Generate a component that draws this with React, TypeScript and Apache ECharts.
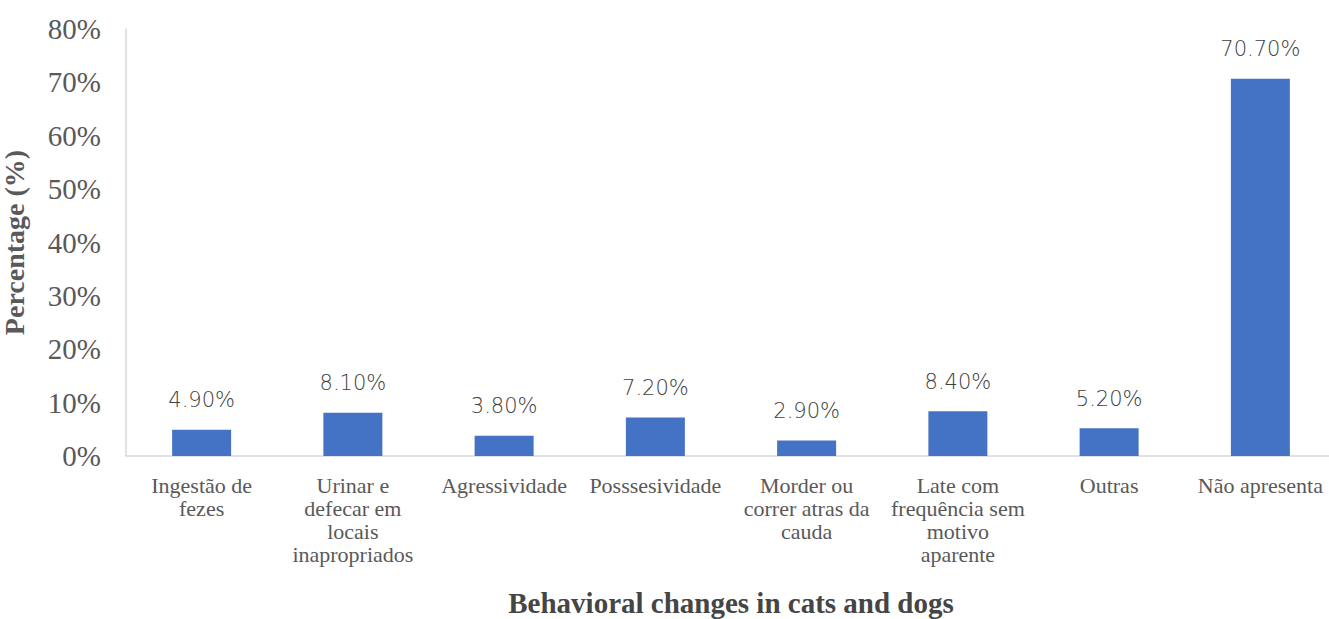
import React, { useEffect, useRef } from "react";
import * as echarts from "echarts";

const categories = [
  "Ingestão de\nfezes",
  "Urinar e\ndefecar em\nlocais\ninapropriados",
  "Agressividade",
  "Posssesividade",
  "Morder ou\ncorrer atras da\ncauda",
  "Late com\nfrequência sem\nmotivo\naparente",
  "Outras",
  "Não apresenta",
];
const values = [4.9, 8.1, 3.8, 7.2, 2.9, 8.4, 5.2, 70.7];
const yTicks = { min: 0, max: 80, interval: 10 };
const xTitle = "Behavioral changes in cats and dogs";
const yTitle = "Percentage (%)";

export default function App() {
  const ref = useRef<HTMLDivElement>(null);
  useEffect(() => {
    if (!ref.current) return;
    const chart = echarts.init(ref.current, null, { renderer: "svg" });
    chart.setOption({
      animation: false,
      backgroundColor: "#ffffff",
      grid: {
        left: 126,
        right: -7,
        top: 29,
        bottom: 163,
        containLabel: false,
        outerBoundsMode: "none",
      },
      xAxis: {
        type: "category",
        data: categories,
        name: xTitle,
        nameLocation: "middle",
        nameGap: 132,
        nameTextStyle: {
          fontFamily: "Liberation Serif",
          fontWeight: "bold",
          fontSize: 29,
          lineHeight: 29,
          color: "#454545",
        },
        axisLine: { show: true, lineStyle: { color: "#d9d9d9", width: 1.5 } },
        axisTick: { show: false },
        axisLabel: {
          interval: 0,
          margin: 18,
          fontFamily: "Liberation Serif",
          fontSize: 22,
          lineHeight: 23,
          color: "#595959",
        },
      },
      yAxis: {
        type: "value",
        min: yTicks.min,
        max: yTicks.max,
        interval: yTicks.interval,
        name: yTitle,
        nameLocation: "middle",
        nameGap: 98,
        nameTextStyle: {
          fontFamily: "Liberation Serif",
          fontWeight: "bold",
          fontSize: 28,
          color: "#595959",
        },
        axisLine: { show: true, lineStyle: { color: "#d9d9d9", width: 1.5 } },
        axisTick: { show: false },
        splitLine: { show: false },
        axisLabel: {
          formatter: "{value}%",
          margin: 25,
          fontFamily: "Liberation Serif",
          fontSize: 29,
          color: "#595959",
        },
      },
      series: [
        {
          type: "bar",
          data: values,
          barWidth: "39%",
          itemStyle: { color: "#4472C4" },
          label: {
            show: true,
            position: "top",
            distance: 19,
            formatter: (p: any) => p.value.toFixed(2) + "%",
            fontFamily: "DejaVu Sans",
            fontWeight: 200,
            fontSize: 21,
            color: "#404040",
          },
        },
      ],
    });
    return () => chart.dispose();
  }, []);
  return (
    <div
      ref={ref}
      style={{ position: "fixed", left: 0, top: 0, width: 1329, height: 619 }}
    />
  );
}
